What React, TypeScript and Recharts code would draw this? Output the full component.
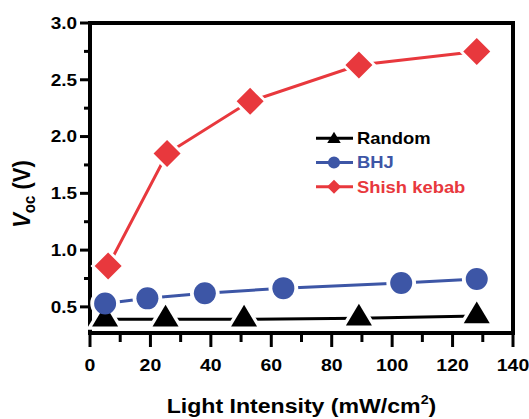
import { LineChart, Line, XAxis, YAxis, Legend, ReferenceLine } from "recharts"

// Light intensity (mW/cm2) and Voc (V) for each film
const RANDOM_X = [5, 25, 51, 89, 128]
const RANDOM_V = [0.39, 0.39, 0.39, 0.4, 0.42]
const BHJ_X = [5, 19, 38, 64, 103, 128]
const BHJ_V = [0.53, 0.575, 0.62, 0.665, 0.71, 0.745]
const KEBAB_X = [6, 25.5, 53, 89, 128]
const KEBAB_V = [0.86, 1.85, 2.31, 2.63, 2.75]

const X_TICKS = [0, 10, 20, 30, 40, 50, 60, 70, 80, 90, 100, 110, 120, 130, 140]
const Y_TICKS = [0.5, 0.75, 1.0, 1.25, 1.5, 1.75, 2.0, 2.25, 2.5, 2.75, 3.0]
const X_MAX = 140
const Y_MIN = 0.27
const Y_MAX = 3

const SERIES_NAMES = ["Random", "BHJ", "Shish kebab"]

const RED = "#e8383d"
const BLUE = "#3d56a6"
const BLACK = "#000000"
const FONT = "'Liberation Sans', Arial, Helvetica, sans-serif"

const W = 529
const H = 419
const Y_AXIS_W = 90
const X_AXIS_H = 86
const PLOT_LEFT = Y_AXIS_W
const PLOT_BOTTOM = H - X_AXIS_H

const toRows = (xs: number[], vs: number[]) => xs.map((x, i) => ({ x, v: vs[i] }))
const randomData = toRows(RANDOM_X, RANDOM_V)
const bhjData = toRows(BHJ_X, BHJ_V)
const kebabData = toRows(KEBAB_X, KEBAB_V)

type Kind = "triangle" | "circle" | "diamond"

function markerPath(kind: Kind, cx: number, cy: number, s: number) {
  if (kind === "triangle")
    return `M${cx},${cy - 14.5 * s}L${cx + 13 * s},${cy + 7.2 * s}L${cx - 13 * s},${cy + 7.2 * s}Z`
  if (kind === "diamond")
    return `M${cx},${cy - 13.5 * s}L${cx + 13.5 * s},${cy}L${cx},${cy + 13.5 * s}L${cx - 13.5 * s},${cy}Z`
  const r = 11 * s
  return `M${cx - r},${cy}a${r},${r} 0 1,0 ${2 * r},0a${r},${r} 0 1,0 ${-2 * r},0Z`
}

// halo = white, bigger copy that cuts the line around a marker (Origin style gaps)
const makeDot = (kind: Kind, color: string, halo: boolean) => (p: any) => {
  const { cx, cy, index } = p
  if (cx == null || cy == null) return <g key={index} />
  const s = halo ? (kind === "triangle" ? 1.45 : kind === "circle" ? 1.35 : 1.3) : 1
  return <path key={index} d={markerPath(kind, cx, cy, s)} fill={halo ? "#fff" : color} stroke="none" />
}

function XTick(props: any) {
  const x = props.x
  const v = props.payload.value
  const major = v % 20 === 0
  return (
    <g>
      <line x1={x} x2={x} y1={PLOT_BOTTOM} y2={PLOT_BOTTOM + (major ? 14 : 9)} stroke={BLACK} strokeWidth={3} />
      {major && (
        <text
          transform={`translate(${x} 371) scale(1.18 1)`}
          textAnchor="middle"
          fontFamily={FONT}
          fontWeight="bold"
          fontSize={16.5}
          fill={BLACK}
        >
          {v}
        </text>
      )}
    </g>
  )
}

function YTick(props: any) {
  const y = props.y
  const v = props.payload.value
  const major = Math.abs(v * 2 - Math.round(v * 2)) < 1e-6
  return (
    <g>
      <line x1={PLOT_LEFT} x2={PLOT_LEFT - (major ? 10 : 6)} y1={y} y2={y} stroke={BLACK} strokeWidth={3} />
      {major && (
        <text
          transform={`translate(77 ${y + 5.8}) scale(1.15 1)`}
          textAnchor="end"
          fontFamily={FONT}
          fontWeight="bold"
          fontSize={16.5}
          fill={BLACK}
        >
          {v.toFixed(1)}
        </text>
      )}
    </g>
  )
}

function XTitle(props: any) {
  const vb = props.viewBox || { x: PLOT_LEFT, width: 423 }
  const cx = vb.x + vb.width / 2
  return (
    <text
      transform={`translate(${cx} 413) scale(1.1 1)`}
      textAnchor="middle"
      fontFamily={FONT}
      fontWeight="bold"
      fontSize={21}
      fill={BLACK}
    >
      <tspan>Light Intensity (mW/cm</tspan>
      <tspan dy={-9} fontSize={13}>2</tspan>
      <tspan dy={9}>)</tspan>
    </text>
  )
}

function YTitle() {
  return (
    <text
      transform="translate(30 194) scale(1.08 1) rotate(-90)"
      textAnchor="middle"
      fontFamily={FONT}
      fontWeight="bold"
      fontSize={22}
      fill={BLACK}
    >
      <tspan fontStyle="italic">V</tspan>
      <tspan dy={5} fontSize={15}>oc</tspan>
      <tspan dy={-5}> (V)</tspan>
    </text>
  )
}

const LEGEND_KINDS: Kind[] = ["triangle", "circle", "diamond"]
const LEGEND_COLORS = [BLACK, BLUE, RED]

function LegendBox() {
  return (
    <svg width={200} height={80} style={{ overflow: "visible" }}>
      {SERIES_NAMES.map((name, i) => {
        const y = 14.3 + i * 24.2
        const c = LEGEND_COLORS[i]
        const k = LEGEND_KINDS[i]
        const s = k === "triangle" ? 0.52 : k === "circle" ? 0.55 : 0.52
        return (
          <g key={name}>
            <line x1={4} x2={41} y1={y} y2={y} stroke={c} strokeWidth={3} />
            <path d={markerPath(k, 22, y + (k === "triangle" ? 1 : 0), s)} fill={c} />
            <text
              transform={`translate(45 ${y + 5.8}) scale(1.15 1)`}
              fontFamily={FONT}
              fontWeight="bold"
              fontSize={16}
              fill={c}
            >
              {name}
            </text>
          </g>
        )
      })}
    </svg>
  )
}

const frameLine = { stroke: BLACK, strokeWidth: 4, strokeLinecap: "square" as const }

export default function App() {
  return (
    <div style={{ position: "absolute", left: 0, top: 0, background: "#fff" }}>
      <LineChart width={W} height={H} margin={{ top: 23, right: 16, bottom: 0, left: 0 }}>
        <XAxis
          dataKey="x"
          type="number"
          domain={[0, X_MAX]}
          ticks={X_TICKS}
          interval={0}
          height={X_AXIS_H}
          axisLine={frameLine}
          tickLine={false}
          tick={<XTick />}
          label={{ content: (p: any) => <XTitle {...p} /> }}
        />
        <YAxis
          type="number"
          domain={[Y_MIN, Y_MAX]}
          ticks={Y_TICKS}
          interval={0}
          width={Y_AXIS_W}
          axisLine={frameLine}
          tickLine={false}
          tick={<YTick />}
          label={{ content: () => <YTitle /> }}
        />
        {/* top and right sides of the frame */}
        <ReferenceLine y={Y_MAX} stroke={BLACK} strokeWidth={4} strokeLinecap="square" />
        <ReferenceLine x={X_MAX} stroke={BLACK} strokeWidth={4} strokeLinecap="square" />
        <Legend
          layout="vertical"
          align="center"
          verticalAlign="middle"
          content={() => <LegendBox />}
          wrapperStyle={{ left: 312, top: 124, width: 200, height: 80 }}
        />

        {/* lines */}
        <Line data={randomData} dataKey="v" name="Random" stroke={BLACK} strokeWidth={3} dot={false} isAnimationActive={false} />
        <Line data={bhjData} dataKey="v" name="BHJ" stroke={BLUE} strokeWidth={3} dot={false} isAnimationActive={false} />
        <Line data={kebabData} dataKey="v" name="Shish kebab" stroke={RED} strokeWidth={3} dot={false} isAnimationActive={false} />

        {/* white halos that open gaps in the lines */}
        <Line data={randomData} dataKey="v" stroke="none" legendType="none" dot={makeDot("triangle", BLACK, true)} isAnimationActive={false} />
        <Line data={bhjData} dataKey="v" stroke="none" legendType="none" dot={makeDot("circle", BLUE, true)} isAnimationActive={false} />
        <Line data={kebabData} dataKey="v" stroke="none" legendType="none" dot={makeDot("diamond", RED, true)} isAnimationActive={false} />

        {/* markers */}
        <Line data={randomData} dataKey="v" stroke="none" legendType="none" dot={makeDot("triangle", BLACK, false)} isAnimationActive={false} />
        <Line data={bhjData} dataKey="v" stroke="none" legendType="none" dot={makeDot("circle", BLUE, false)} isAnimationActive={false} />
        <Line data={kebabData} dataKey="v" stroke="none" legendType="none" dot={makeDot("diamond", RED, false)} isAnimationActive={false} />
      </LineChart>
    </div>
  )
}
